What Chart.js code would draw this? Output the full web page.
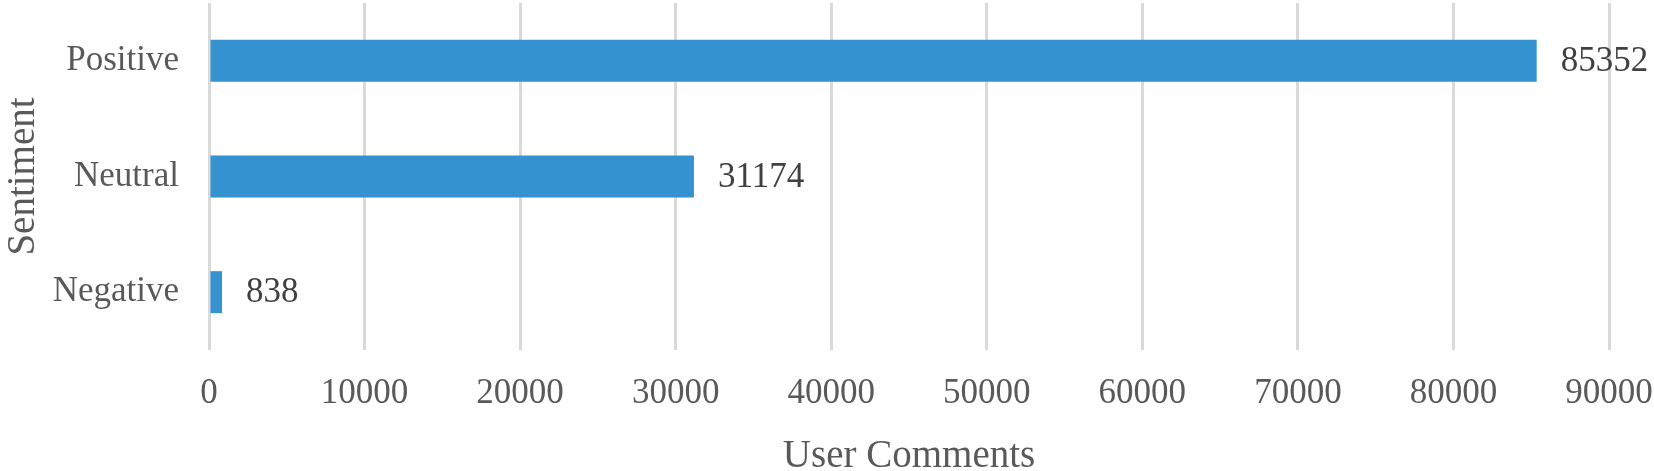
<!DOCTYPE html>
<html>
<head>
<meta charset="utf-8">
<script src="https://cdn.jsdelivr.net/npm/chart.js@4"></script>
<style>
  html, body { margin: 0; padding: 0; background: #ffffff; }
  #wrap { width: 1654px; height: 471px; }
</style>
</head>
<body>
<div id="wrap"><canvas id="c" width="1654" height="471"></canvas></div>
<script>
const categories = ['Positive', 'Neutral', 'Negative'];
const commentCounts = [85352, 31174, 838];
const xTickValues = [0, 10000, 20000, 30000, 40000, 50000, 60000, 70000, 80000, 90000];
const xAxisTitle = 'User Comments';
const yAxisTitle = 'Sentiment';

const FONT = '"Liberation Serif", "Times New Roman", serif';

const valueLabels = {
  id: 'valueLabels',
  afterDatasetsDraw(chart) {
    const ctx = chart.ctx;
    const meta = chart.getDatasetMeta(0);
    ctx.save();
    ctx.font = '35px ' + FONT;
    ctx.fillStyle = '#404040';
    ctx.textAlign = 'left';
    ctx.textBaseline = 'middle';
    meta.data.forEach((bar, i) => {
      ctx.fillText(String(commentCounts[i]), bar.x + 24, bar.y + 1);
    });
    ctx.restore();
  }
};

new Chart(document.getElementById('c'), {
  type: 'bar',
  data: {
    labels: categories,
    datasets: [{
      data: commentCounts,
      backgroundColor: '#3592d0',
      borderWidth: 0,
      categoryPercentage: 1.0,
      barPercentage: 0.363
    }]
  },
  options: {
    indexAxis: 'y',
    responsive: false,
    animation: false,
    devicePixelRatio: 1,
    layout: { padding: { top: 3, right: 45, left: 0, bottom: 0 } },
    plugins: {
      legend: { display: false },
      tooltip: { enabled: false }
    },
    scales: {
      x: {
        type: 'linear',
        min: 0,
        max: 90000,
        afterBuildTicks(scale) { scale.ticks = xTickValues.map(v => ({ value: v })); },
        ticks: {
          font: { family: FONT, size: 35 },
          color: '#595959',
          padding: 23,
          maxRotation: 0,
          callback: (v) => String(v)
        },
        grid: { color: '#d9d9d9', lineWidth: 3, drawTicks: false },
        border: { display: false },
        title: {
          display: true,
          text: xAxisTitle,
          font: { family: FONT, size: 39 },
          color: '#595959',
          padding: { top: 0, bottom: -9 }
        },
        afterFit(scale) {
          scale.height = 121;
          scale.paddingLeft = 0;
          scale.paddingRight = 0;
        }
      },
      y: {
        type: 'category',
        ticks: {
          font: { family: FONT, size: 35 },
          color: '#595959',
          padding: 30
        },
        grid: { display: false, drawTicks: false },
        border: { display: false },
        title: {
          display: true,
          text: yAxisTitle,
          font: { family: FONT, size: 39 },
          color: '#595959',
          padding: { top: 0, bottom: 0 }
        },
        afterFit(scale) {
          scale.width = 209;
          scale.paddingTop = 0;
          scale.paddingBottom = 0;
        }
      }
    }
  },
  plugins: [valueLabels]
});
</script>
</body>
</html>
